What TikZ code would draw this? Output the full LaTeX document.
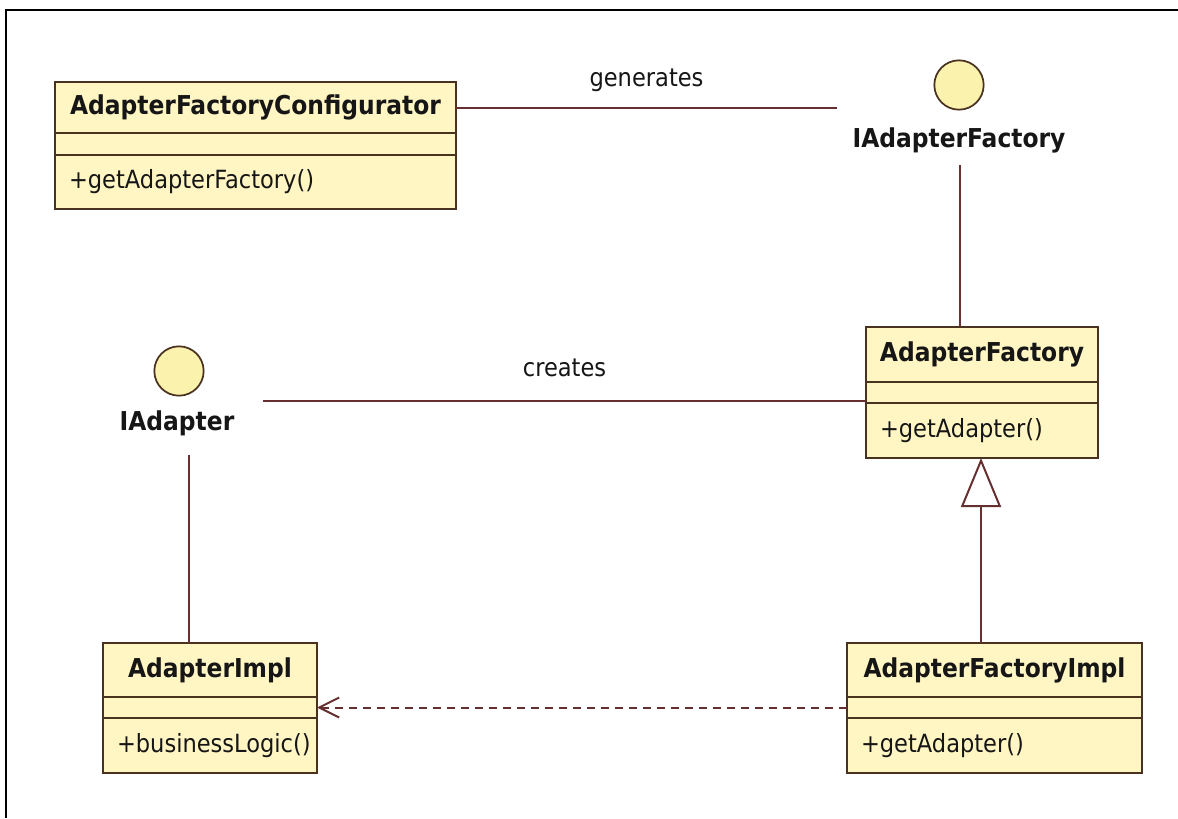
\documentclass[tikz,border=0pt]{standalone}
\usepackage{fontspec}
\setmainfont{DejaVu Sans Condensed}
\usetikzlibrary{arrows.meta}

\definecolor{boxfill}{HTML}{FFF6C4}
\definecolor{ifacefill}{HTML}{FBF2AE}
\definecolor{boxline}{HTML}{4A3220}
\definecolor{linkcol}{HTML}{663030}
\definecolor{ink}{HTML}{161616}

\tikzset{
  umltext/.style={font=\fontsize{18.8}{22}\selectfont, text=ink},
  compart/.style={draw=boxline, fill=boxfill, line width=1.4pt, anchor=north west,
                  inner sep=0pt, outer sep=0pt, umltext},
  clsname/.style={compart, font=\fontsize{19.5}{22}\selectfont\bfseries},
  clsops/.style={compart, align=left, inner xsep=10.5pt},
  iface/.style={circle, draw=boxline, fill=ifacefill, line width=1.3pt,
                minimum size=37pt, inner sep=0pt},
  ifacename/.style={inner sep=0pt, font=\fontsize{19.5}{22}\selectfont\bfseries, text=ink},
  lbl/.style={inner sep=0pt, umltext},
  assoc/.style={draw=linkcol, line width=1.5pt},
  inherit/.style={assoc, -{Triangle[open, length=36.75pt, width=30pt]}},
  dep/.style={assoc, dash pattern=on 6pt off 4.5pt,
              -{Straight Barb[length=15pt, width=15pt]}},
}

\begin{document}
\begin{tikzpicture}[x=0.75pt, y=-0.75pt]
\useasboundingbox[fill=white] (0,0) rectangle (1178,818);

% window frame (top and left edges)
\draw[black, line width=2pt] (6,818) -- (6,10) -- (1178,10);

% AdapterFactoryConfigurator
\node[clsname, minimum width=300.75pt, minimum height=38.25pt] (cfgN) at (55,82) {AdapterFactoryConfigurator};
\node[compart, minimum width=300.75pt, minimum height=16.5pt] (cfgA) at (cfgN.south west) {};
\node[clsops, minimum width=300.75pt, minimum height=40.5pt, text width=279.75pt] (cfgM) at (cfgA.south west) {+getAdapterFactory()};

% AdapterFactory
\node[clsname, minimum width=174pt, minimum height=41.25pt] (afN) at (866,327) {AdapterFactory};
\node[compart, minimum width=174pt, minimum height=15.75pt] (afA) at (afN.south west) {};
\node[clsops, minimum width=174pt, minimum height=41.25pt, text width=153pt] (afM) at (afA.south west) {+getAdapter()};

% AdapterImpl
\node[clsname, minimum width=160.5pt, minimum height=40.5pt] (implN) at (103,643) {AdapterImpl};
\node[compart, minimum width=160.5pt, minimum height=15.75pt] (implA) at (implN.south west) {};
\node[clsops, minimum width=160.5pt, minimum height=41.25pt, text width=139.5pt] (implM) at (implA.south west) {+businessLogic()};

% AdapterFactoryImpl
\node[clsname, minimum width=221.25pt, minimum height=40.5pt] (afiN) at (847,643) {AdapterFactoryImpl};
\node[compart, minimum width=221.25pt, minimum height=15.75pt] (afiA) at (afiN.south west) {};
\node[clsops, minimum width=221.25pt, minimum height=41.25pt, text width=200.25pt] (afiM) at (afiA.south west) {+getAdapter()};

% interfaces (lollipop notation)
\node[iface] (iaf) at (959,85) {};
\node[ifacename] (iafT) at (959,140) {IAdapterFactory};
\node[iface] (ia) at (179,371) {};
\node[ifacename] (iaT) at (177,423) {IAdapter};

% connector end points
\coordinate (genEnd) at (837,107);
\coordinate (crStart) at (263,401);
\coordinate (iafDrop) at (960,165);
\coordinate (iaDrop) at (189,455);
\coordinate (genX) at (981,0);

% associations
\draw[assoc] (cfgN.east) -- (cfgN.east -| genEnd)
  node[lbl, midway, yshift=20.25pt] {generates};
\draw[assoc] (crStart) -- (crStart -| afA.west)
  node[lbl, midway, yshift=24.75pt] {creates};
\draw[assoc] (iafDrop) -- (iafDrop |- afN.north);
\draw[assoc] (iaDrop) -- (iaDrop |- implN.north);

% generalization and dependency
\draw[inherit] (genX |- afiN.north) -- (genX |- afM.south);
\draw[dep] (afiA.west) -- (implA.east);
\end{tikzpicture}
\end{document}
